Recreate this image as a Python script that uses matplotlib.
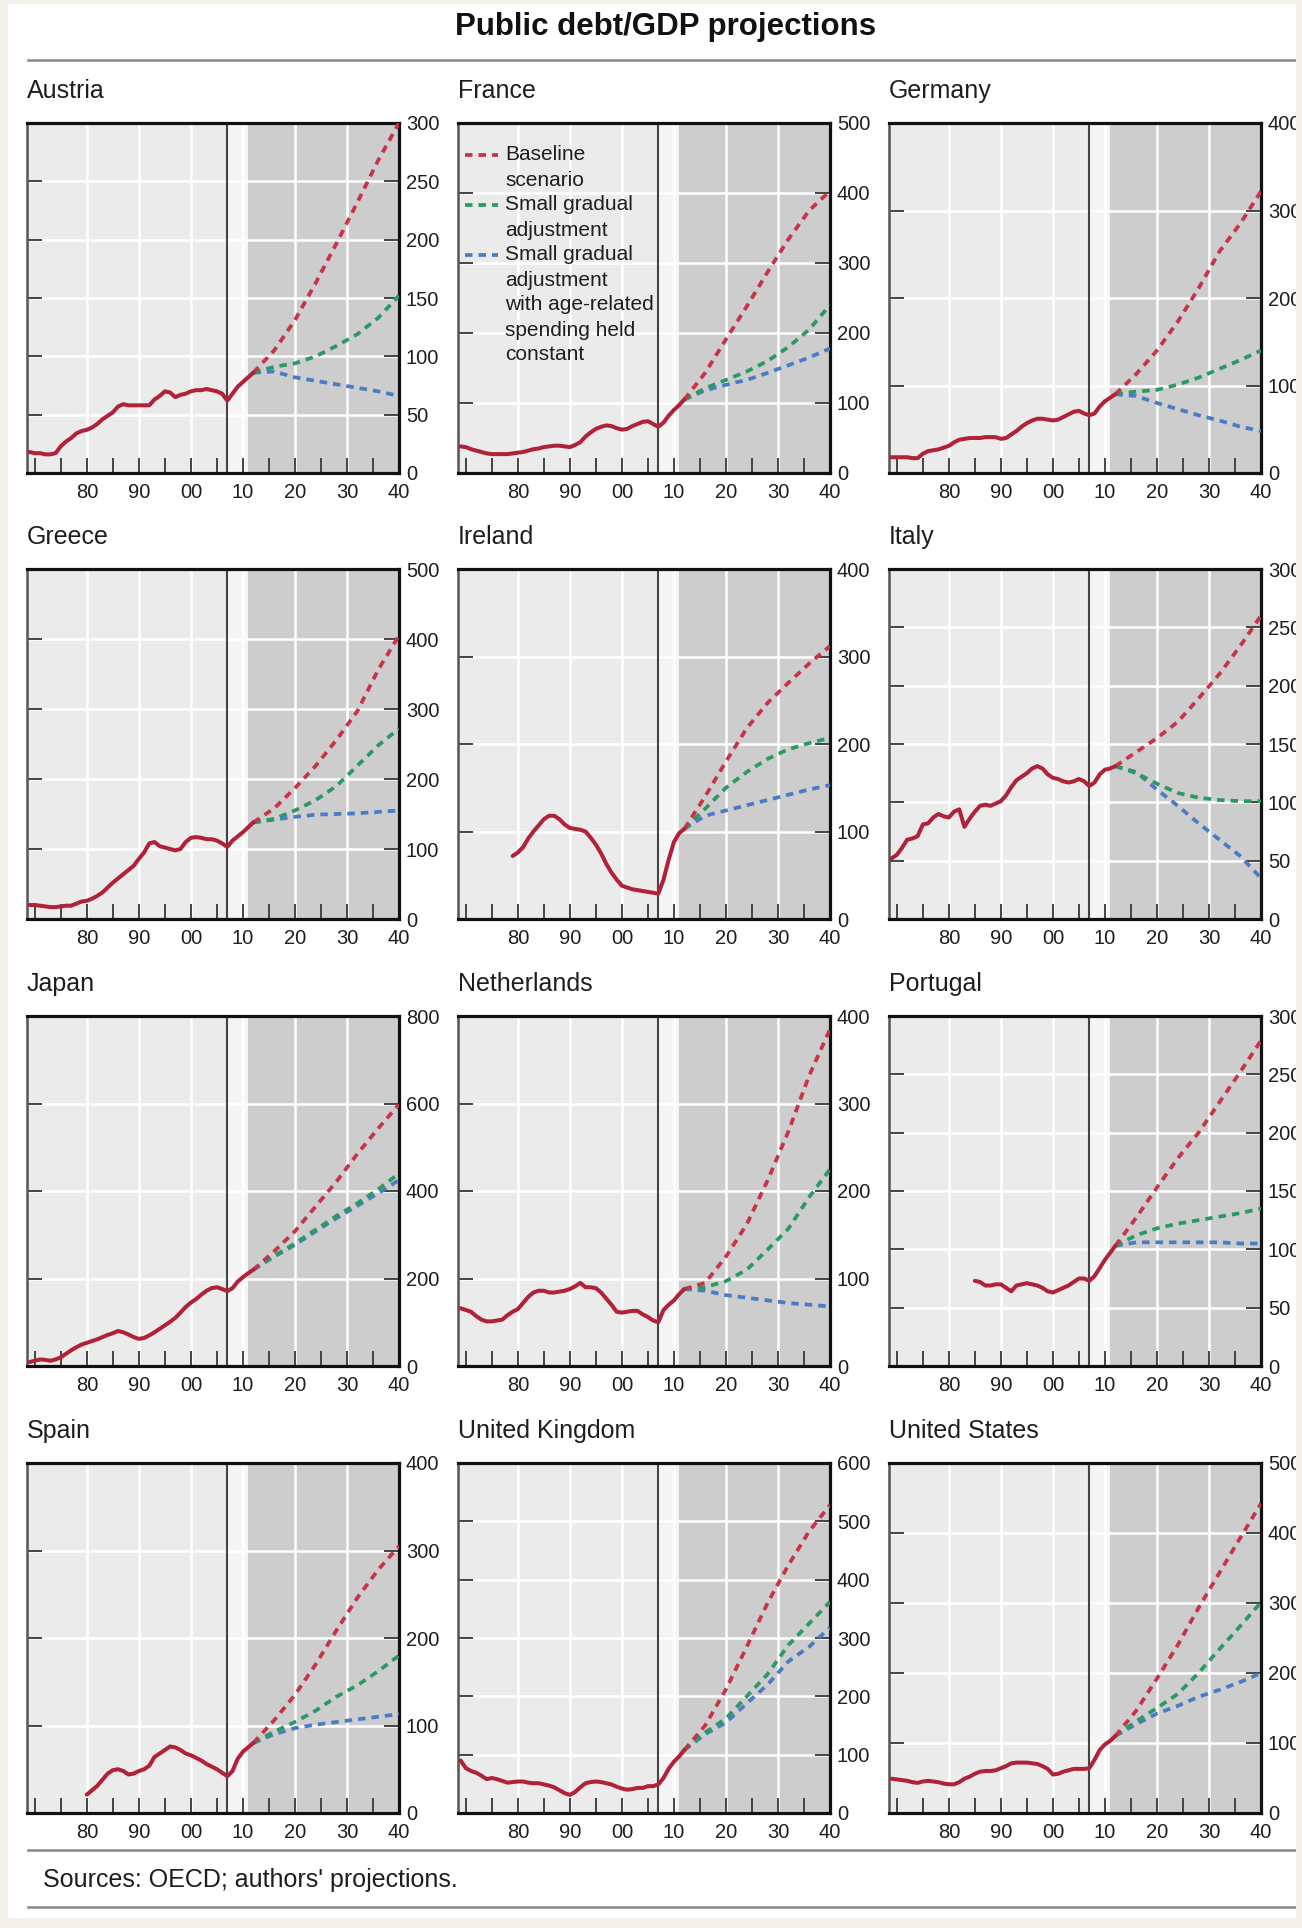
import matplotlib
matplotlib.use("Agg")
import matplotlib.pyplot as plt
from matplotlib.ticker import FixedLocator, FuncFormatter
from matplotlib.patches import Rectangle
from matplotlib.lines import Line2D

plt.rcParams['font.family'] = ['Liberation Sans', 'DejaVu Sans']

W, H = 1302, 1928

# ---- data (% of GDP) ----
countries = ["Austria", "France", "Germany", "Greece", "Ireland", "Italy",
             "Japan", "Netherlands", "Portugal", "Spain", "United Kingdom",
             "United States"]
ymax = [300, 500, 400, 500, 400, 300, 800, 400, 300, 400, 600, 500]
ystep = [50, 100, 100, 100, 100, 50, 200, 100, 50, 100, 100, 100]
hist_start = [1969, 1969, 1969, 1969, 1979, 1969, 1969, 1969, 1985, 1980, 1969, 1969]

proj_years = [2012, 2016, 2020, 2024, 2028, 2032, 2036, 2040]

austria_hist = [18, 17, 17, 16, 16, 17, 23, 27, 30, 34, 36,
                37, 39, 42, 46, 49, 52, 57, 59, 58, 58,
                58, 58, 58, 63, 66, 70, 69, 65, 67, 68,
                70, 71, 71, 72, 71, 70, 68, 62, 68, 74,
                78, 82, 86]
austria_base = [86, 105, 131, 163, 197, 232, 268, 300]
austria_small = [86, 91, 94, 100, 109, 119, 133, 152]
austria_age = [86, 87, 82, 79, 76, 73, 70, 66]

france_hist = [38, 37, 34, 32, 30, 28, 27, 27, 27, 27, 28,
               29, 30, 32, 34, 35, 37, 38, 39, 39, 38,
               37, 40, 44, 52, 58, 63, 66, 68, 67, 64,
               62, 63, 67, 70, 73, 74, 70, 66, 72, 82,
               90, 97, 105]
france_base = [105, 143, 191, 238, 287, 334, 375, 403]
france_small = [105, 121, 133, 145, 160, 180, 205, 240]
france_age = [105, 118, 126, 133, 143, 154, 165, 178]

germany_hist = [18, 18, 18, 18, 17, 17, 22, 25, 26, 27, 29,
                31, 35, 38, 39, 40, 40, 40, 41, 41, 41,
                39, 40, 44, 48, 53, 57, 60, 62, 62, 61,
                60, 61, 64, 67, 70, 71, 68, 66, 68, 76,
                82, 86, 90]
germany_base = [90, 113, 140, 173, 211, 253, 285, 322]
germany_small = [90, 93, 95, 101, 109, 119, 129, 140]
germany_age = [90, 88, 80, 73, 66, 60, 53, 48]

greece_hist = [20, 20, 19, 18, 17, 17, 18, 19, 19, 22, 25,
               26, 29, 33, 38, 45, 52, 58, 64, 70, 76,
               86, 95, 108, 110, 104, 102, 100, 98, 100, 110,
               116, 117, 116, 114, 114, 112, 108, 103, 112, 118,
               124, 131, 138]
greece_base = [138, 158, 187, 219, 256, 297, 356, 405]
greece_small = [138, 143, 155, 170, 190, 219, 248, 272]
greece_age = [138, 142, 146, 149, 150, 151, 153, 155]

ireland_hist = [72,
                76, 82, 92, 100, 107, 114, 118, 118, 114, 108,
                104, 103, 102, 100, 93, 85, 75, 63, 53, 45,
                38, 36, 34, 33, 32, 31, 30, 29, 45, 68,
                88, 98, 103]
ireland_base = [103, 140, 180, 218, 247, 270, 292, 312]
ireland_small = [103, 126, 150, 168, 183, 194, 201, 207]
ireland_age = [103, 118, 124, 130, 136, 142, 148, 153]

italy_hist = [52, 55, 61, 68, 69, 71, 81, 82, 87, 90, 88,
              87, 92, 94, 79, 86, 92, 97, 98, 97, 99,
              101, 106, 113, 119, 122, 125, 129, 131, 129, 124,
              121, 120, 118, 117, 118, 120, 118, 114, 117, 124,
              128, 129, 131]
italy_base = [131, 143, 155, 169, 189, 210, 234, 260]
italy_small = [131, 125, 116, 108, 104, 102, 101, 101]
italy_age = [131, 126, 111, 97, 82, 68, 54, 35]

japan_hist = [9, 12, 15, 14, 12, 15, 20, 28, 36, 43, 49,
              53, 57, 61, 66, 71, 75, 80, 77, 72, 66,
              62, 64, 70, 77, 85, 93, 101, 110, 122, 135,
              145, 153, 163, 172, 178, 180, 176, 171, 178, 193,
              203, 212, 220]
japan_base = [220, 262, 308, 365, 422, 485, 543, 598]
japan_small = [220, 252, 280, 312, 343, 372, 404, 440]
japan_age = [220, 250, 277, 308, 338, 366, 395, 425]

netherlands_hist = [66, 64, 62, 57, 53, 51, 51, 52, 53, 58, 62,
                    65, 72, 79, 84, 86, 86, 84, 84, 85, 86,
                    88, 91, 95, 90, 90, 89, 84, 77, 70, 62,
                    61, 62, 63, 63, 59, 56, 52, 50, 64, 70,
                    75, 82, 88]
netherlands_base = [88, 95, 125, 162, 212, 268, 332, 385]
netherlands_small = [88, 90, 97, 110, 133, 157, 193, 225]
netherlands_age = [88, 86, 81, 78, 75, 72, 70, 68]

portugal_hist = [73, 72, 69, 69, 70,
                 70, 67, 64, 69, 70, 71, 70, 69, 67, 64,
                 63, 65, 67, 69, 72, 75, 75, 73, 77, 84,
                 91, 97, 103]
portugal_base = [103, 127, 153, 178, 200, 226, 252, 279]
portugal_small = [103, 112, 118, 122, 125, 128, 131, 135]
portugal_age = [103, 106, 106, 106, 106, 106, 105, 105]

spain_hist = [21, 26, 31, 38, 45, 49, 50, 48, 44, 45,
              48, 50, 54, 64, 68, 72, 76, 75, 72, 68,
              66, 63, 60, 56, 53, 50, 46, 42, 48, 62,
              70, 75, 80]
spain_base = [80, 106, 135, 170, 209, 246, 278, 305]
spain_small = [80, 93, 104, 117, 133, 146, 162, 180]
spain_age = [80, 90, 97, 101, 104, 107, 110, 113]

uk_hist = [90, 77, 72, 69, 64, 58, 60, 58, 55, 52, 53,
           54, 54, 52, 51, 51, 49, 47, 44, 39, 34,
           31, 36, 44, 51, 53, 54, 53, 51, 49, 45,
           42, 40, 41, 43, 43, 46, 46, 49, 60, 76,
           88, 97, 108]
uk_base = [108, 150, 212, 285, 360, 425, 483, 528]
uk_small = [108, 138, 162, 200, 238, 288, 325, 362]
uk_age = [108, 135, 155, 188, 220, 260, 285, 318]

us_hist = [49, 48, 47, 46, 44, 43, 45, 46, 45, 44, 42,
           41, 41, 44, 49, 52, 56, 59, 60, 60, 61,
           64, 67, 71, 72, 72, 72, 71, 70, 67, 63,
           55, 56, 59, 61, 63, 63, 63, 64, 76, 90,
           98, 103, 110]
us_base = [110, 146, 192, 240, 293, 343, 393, 442]
us_small = [110, 131, 150, 170, 200, 234, 267, 301]
us_age = [110, 127, 142, 153, 166, 176, 187, 200]

legend_labels = ["Baseline\nscenario",
                 "Small gradual\nadjustment",
                 "Small gradual\nadjustment\nwith age-related\nspending held\nconstant"]

hist_series = [austria_hist, france_hist, germany_hist, greece_hist, ireland_hist,
               italy_hist, japan_hist, netherlands_hist, portugal_hist, spain_hist,
               uk_hist, us_hist]
base_series = [austria_base, france_base, germany_base, greece_base, ireland_base,
               italy_base, japan_base, netherlands_base, portugal_base, spain_base,
               uk_base, us_base]
small_series = [austria_small, france_small, germany_small, greece_small, ireland_small,
                italy_small, japan_small, netherlands_small, portugal_small, spain_small,
                uk_small, us_small]
age_series = [austria_age, france_age, germany_age, greece_age, ireland_age,
              italy_age, japan_age, netherlands_age, portugal_age, spain_age,
              uk_age, us_age]

# ---- styling ----
RED = '#b0223a'
RED_D = '#c83348'
GREEN = '#2b9a62'
BLUE = '#4a7cc6'
BEIGE = '#f4f1ea'
dash = (2.0, 1.6)
DLW = 2.7

fig = plt.figure(figsize=(W / 100, H / 100), dpi=100)
fig.patch.set_facecolor('white')

col_x = [27, 458, 889]
row_top = [123, 569, 1016, 1463]
ax_w, ax_h = 372, 350

for i, name in enumerate(countries):
    r, c = divmod(i, 3)
    left, top = col_x[c], row_top[r]
    ax = fig.add_axes([left / W, 1 - (top + ax_h) / H, ax_w / W, ax_h / H])

    ax.set_xlim(1968.5, 2040)
    ax.set_ylim(0, ymax[i])
    ax.set_facecolor('#ebebeb')
    ax.axvspan(2007, 2011, color='#f5f5f5', lw=0, zorder=0.2)
    ax.axvspan(2011, 2040, color='#cdcdcd', lw=0, zorder=0.2)
    ax.set_axisbelow(True)

    ax.xaxis.set_major_locator(FixedLocator(list(range(1980, 2041, 10))))
    ax.xaxis.set_minor_locator(FixedLocator([y for y in range(1970, 2040, 5) if y % 10 or y == 1970]))
    ax.xaxis.set_major_formatter(FuncFormatter(lambda v, p: f"{int(round(v)) % 100:02d}"))
    ax.yaxis.set_major_locator(FixedLocator(list(range(0, ymax[i] + 1, ystep[i]))))
    ax.grid(axis='x', which='major', color='white', lw=1.8)
    ax.grid(axis='y', which='major', color='white', lw=1.8)

    ax.tick_params(axis='both', which='both', direction='in', length=11,
                   width=1.4, color='#444444', labelsize=14.5, labelcolor='#1e1e1e')
    ax.tick_params(axis='x', which='both', top=False, pad=7)
    ax.tick_params(axis='y', left=True, right=True, labelleft=False,
                   labelright=True, pad=5)

    for s in ['top', 'right', 'bottom']:
        ax.spines[s].set_linewidth(2.3)
        ax.spines[s].set_color('#111111')
    ax.spines['left'].set_linewidth(1.8)
    ax.spines['left'].set_color('#555555')

    ax.axvline(2007, color='#444444', lw=1.5, zorder=2)

    hy = list(range(hist_start[i], hist_start[i] + len(hist_series[i])))
    ax.plot(proj_years, age_series[i], color=BLUE, lw=DLW, dashes=dash, zorder=3)
    ax.plot(proj_years, small_series[i], color=GREEN, lw=DLW, dashes=dash, zorder=3)
    ax.plot(proj_years, base_series[i], color=RED_D, lw=DLW, dashes=dash, zorder=3)
    ax.plot(hy, hist_series[i], color=RED, lw=2.9, zorder=4, solid_capstyle='round')

    fig.text(left / W, 1 - (top - 32) / H, name, fontsize=18, va='center',
             ha='left', color='#1e1e1e')

    if name == "France":
        colors = [RED_D, GREEN, BLUE]
        line_px = 25
        y0 = 32
        for lab, col in zip(legend_labels, colors):
            yf = 1 - y0 / ax_h
            ax.plot([7 / ax_w, 40 / ax_w], [yf, yf], transform=ax.transAxes,
                    color=col, lw=DLW, dashes=dash, zorder=5)
            for k, line in enumerate(lab.split("\n")):
                ax.text(47 / ax_w, 1 - (y0 + k * line_px) / ax_h, line,
                        transform=ax.transAxes, fontsize=15, va='center',
                        ha='left', color='#1e1e1e', zorder=5)
            y0 += line_px * len(lab.split("\n"))

# ---- title, rules, source ----
fig.text(666 / W, 1 - 27 / H, "Public debt/GDP projections", fontsize=22.5,
         fontweight='bold', ha='center', va='center', color='#111111')
for yy in [60, 1850, 1907]:
    fig.add_artist(Line2D([28 / W, 1296 / W], [1 - yy / H, 1 - yy / H],
                          color='#888888', lw=1.8))
fig.text(43 / W, 1 - 1880 / H, "Sources: OECD; authors' projections.",
         fontsize=18, ha='left', va='center', color='#1e1e1e')

# beige frame of the scanned page
for (x0, y0, w, h) in [(0, 0, 8, H), (1296, 0, 6, H), (0, 0, W, 4), (0, 1918, W, 10)]:
    fig.patches.append(Rectangle((x0 / W, 1 - (y0 + h) / H), w / W, h / H,
                                 transform=fig.transFigure, color=BEIGE,
                                 zorder=20, lw=0))

fig.savefig("out.png", dpi=100)
